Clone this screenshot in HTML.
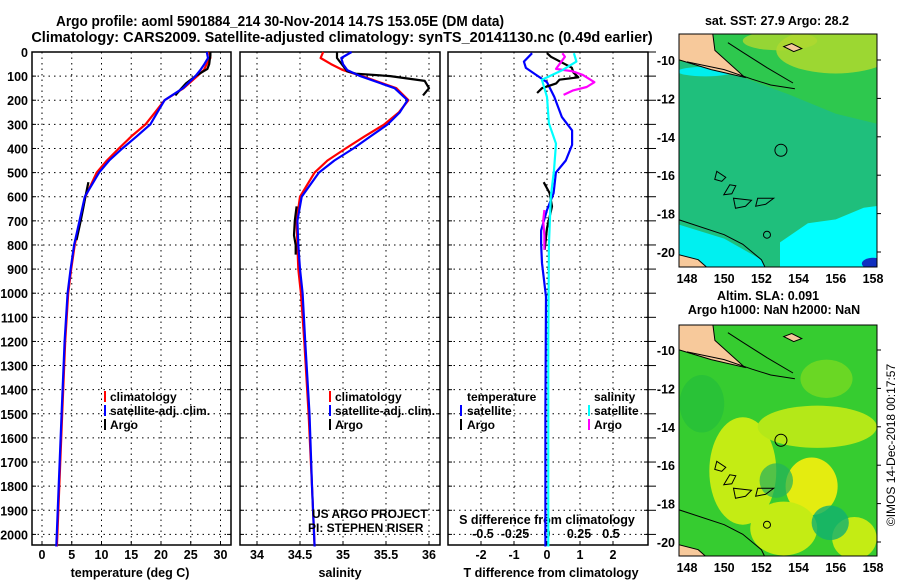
<!DOCTYPE html>
<html><head><meta charset="utf-8"><style>
html,body{margin:0;padding:0;background:#fff;}
svg{display:block;font-family:"Liberation Sans",sans-serif;font-weight:bold;}
</style></head><body>
<svg id="fig" width="900" height="580" viewBox="0 0 900 580" xmlns="http://www.w3.org/2000/svg">
<text x="280" y="26" font-size="14.5" text-anchor="middle" textLength="448" lengthAdjust="spacingAndGlyphs">Argo profile: aoml 5901884_214 30-Nov-2014 14.7S 153.05E (DM data)</text>
<text x="342" y="42" font-size="14.5" text-anchor="middle">Climatology: CARS2009. Satellite-adjusted climatology: synTS_20141130.nc (0.49d earlier)</text>
<g id="maps"></g>
<g id="panels"></g>
</svg>
<script>
// ---- data ----
const depthTicks=[0,100,200,300,400,500,600,700,800,900,1000,1100,1200,1300,1400,1500,1600,1700,1800,1900,2000];
const tempTicks=[0,5,10,15,20,25,30];
const salTicks=[34,34.5,35,35.5,36];
const tdTicks=[-2,-1,0,1,2];
const sdTicks=[-0.5,-0.25,0,0.25,0.5];
const sdTickLabels=["-0.5","-0.25","0","0.25","0.5"];
const climDepth=[0,25,50,75,100,150,200,250,300,350,400,450,500,600,700,800,900,1000,1200,1500,1800,2050];
const tempClim=[28.1,28.3,27.7,27.2,26.1,23.8,20.6,19.0,17.4,15.0,12.9,10.9,9.2,7.3,6.4,5.5,4.9,4.4,3.9,3.4,2.9,2.5];
const tempSat=[27.7,27.9,27.3,26.6,25.8,23.7,20.6,19.4,18.2,15.9,13.5,11.3,9.6,7.2,6.3,5.4,4.8,4.3,3.8,3.3,2.8,2.4];
const salClim=[34.77,34.74,34.86,35.0,35.22,35.62,35.76,35.65,35.48,35.25,35.03,34.82,34.67,34.5,34.46,34.47,34.48,34.51,34.55,34.6,34.64,34.67];
const salSat=[35.1,34.98,35.0,35.05,35.2,35.6,35.75,35.66,35.52,35.32,35.12,34.9,34.72,34.52,34.47,34.48,34.5,34.53,34.56,34.61,34.64,34.67];
const argoTDepth=[0,15,30,50,70,100,130,160,180];
const argoTemp=[28.3,28.3,28.2,28.1,27.8,25.8,24.2,23.1,22.4];
const argoTDeepDepth=[540,600,650,700,780];
const argoTDeep=[7.8,7.3,6.9,6.5,5.8];
const argoSDepth=[0,10,25,80,90,100,120,150,180];
const argoSal=[34.93,34.93,34.93,35.05,35.15,35.55,35.95,36.0,35.93];
const argoSDeepDepth=[640,700,760,800,840];
const argoSDeep=[34.46,34.44,34.43,34.45,34.45];
const diffDepth=[5,40,66,95,125,186,270,325,385,450,500,585,655,740,795,875,1015,1500,2050];
const tDiffSat=[-0.45,-0.7,-0.64,-0.33,0,0.22,0.45,0.76,0.76,0.57,0.27,0.2,0,-0.18,-0.18,-0.15,-0.03,-0.05,-0.05];
const cDepth=[5,40,75,115,186,295,380,490,600,800,1200,2050];
const sDiffSat=[0.21,0.23,0.12,-0.04,0,0.015,0.07,0.055,0.03,0.015,0.01,0.01];
const aTDepth=[5,20,65,85,105,115,130,150,170];
const tDiffArgo=[0.0,0.12,0.75,0.8,0.95,0.38,0.28,-0.15,-0.3];
const aTDeepDepth=[540,585,640,730,820];
const tDiffArgoDeep=[-0.1,0.08,0.15,0.0,-0.07];
const aSDepth=[5,20,70,80,95,125,145,160,178];
const sDiffArgo=[0.12,0.14,0.07,0.2,0.28,0.37,0.31,0.2,0.13];
const aSDeepDepth=[655,700,760,820];
const sDiffArgoDeep=[-0.02,-0.03,-0.02,-0.02];

const NS="http://www.w3.org/2000/svg";
function mk(tag,attrs,parent,txt){const e=document.createElementNS(NS,tag);for(const k in attrs)e.setAttribute(k,attrs[k]);if(txt!==undefined)e.textContent=txt;parent.appendChild(e);return e;}
const top0=52, pxPerM=0.2412, bot=545;
const yD=d=>top0+d*pxPerM;
const P=document.getElementById('panels');

function panel(name){
  const g=mk('g',{},P);
  
  
  return g;
}
function grid(g,x0,x1,xs){
  depthTicks.forEach(d=>{const y=yD(d);mk('line',{x1:x0,x2:x1,y1:y,y2:y,stroke:'#000','stroke-dasharray':'1.5,4','stroke-width':1},g);
    mk('line',{x1:x0,x2:x0+4,y1:y,y2:y,stroke:'#000'},g);mk('line',{x1:x1-4,x2:x1,y1:y,y2:y,stroke:'#000'},g);});
  xs.forEach(x=>{mk('line',{x1:x,x2:x,y1:top0,y2:bot,stroke:'#000','stroke-dasharray':'1.5,4'},g);
    mk('line',{x1:x,x2:x,y1:bot,y2:bot-4,stroke:'#000'},g);});
  mk('rect',{x:x0,y:top0,width:x1-x0,height:bot-top0,fill:'none',stroke:'#000','stroke-width':1.5},g);
}
function line(g,xs,ds,fx,col,name,w){
  const pts=xs.map((v,i)=>fx(v).toFixed(1)+','+yD(ds[i]).toFixed(1)).join(' ');
  const e=mk('polyline',{points:pts,fill:'none',stroke:col,'stroke-width':w||2.2,'stroke-linejoin':'round'},g);
  
  
}
function txt(g,x,y,s,size,anchor,name){const e=mk('text',{x:x,y:y,'font-size':size,'text-anchor':anchor||'start'},g,s);
  
  return e;}

// Panel 1: temperature
const xT=v=>42+v*5.95;
let g=panel('temperature-panel');
grid(g,32,231,tempTicks.map(xT));
depthTicks.forEach(d=>txt(g,28,yD(d)+5,String(d),12.5,'end','depth-tick-label'));
tempTicks.forEach(t=>txt(g,xT(t),559,String(t),12.5,'middle','temperature-tick-label'));
txt(g,130,577,'temperature (deg C)',12.5,'middle','temperature-axis-title');
line(g,tempClim,climDepth,xT,'#ff0000','temperature-climatology-line');
line(g,argoTemp,argoTDepth,xT,'#000','temperature-argo-line');
line(g,argoTDeep,argoTDeepDepth,xT,'#000','temperature-argo-deep-line');
line(g,tempSat,climDepth,xT,'#0000ff','temperature-satellite-line');
[['climatology','#f00'],['satellite-adj. clim.','#00f'],['Argo','#000']].forEach((l,i)=>{
  mk('rect',{x:104,y:391+i*14,width:2,height:11,fill:l[1]},g);txt(g,110,401+i*14,l[0],12,'start','legend-entry');});

// Panel 2: salinity
const xS=v=>257+(v-34)*86;
g=panel('salinity-panel');
grid(g,240,440,salTicks.map(xS));
salTicks.forEach(t=>txt(g,xS(t),559,String(t),12.5,'middle','salinity-tick-label'));
txt(g,340,577,'salinity',12.5,'middle','salinity-axis-title');
line(g,salClim,climDepth,xS,'#ff0000','salinity-climatology-line');
line(g,argoSal,argoSDepth,xS,'#000','salinity-argo-line');
line(g,argoSDeep,argoSDeepDepth,xS,'#000','salinity-argo-deep-line');
line(g,salSat,climDepth,xS,'#0000ff','salinity-satellite-line');
[['climatology','#f00'],['satellite-adj. clim.','#00f'],['Argo','#000']].forEach((l,i)=>{
  mk('rect',{x:329,y:391+i*14,width:2,height:11,fill:l[1]},g);txt(g,335,401+i*14,l[0],12,'start','legend-entry');});
txt(g,312,518,'US ARGO PROJECT',12,'start','project-credit');
txt(g,308,532,'PI: STEPHEN RISER',12,'start','pi-credit');

// Panel 3: differences
const xTD=v=>547+v*33;
const xSD=v=>547+v*128;
g=panel('difference-panel');
grid(g,448,648,tdTicks.map(xTD));
depthTicks.forEach(d=>mk('line',{x1:648,x2:656,y1:yD(d),y2:yD(d),stroke:'#000'},g));
tdTicks.forEach(t=>txt(g,xTD(t),559,String(t),12.5,'middle','t-diff-tick-label'));
sdTicks.forEach((t,i)=>txt(g,xSD(t),538,sdTickLabels[i],12.5,'middle','s-diff-tick-label'));
txt(g,547,524,'S difference from climatology',12.5,'middle','s-diff-axis-title');
txt(g,551,577,'T difference from climatology',12.5,'middle','t-diff-axis-title');
line(g,tDiffSat,diffDepth,xTD,'#0000ff','t-diff-satellite-line');
line(g,tDiffArgo,aTDepth,xTD,'#000','t-diff-argo-line');
line(g,tDiffArgoDeep,aTDeepDepth,xTD,'#000','t-diff-argo-deep-line');
line(g,sDiffArgo,aSDepth,xSD,'#ff00ff','s-diff-argo-line');
line(g,sDiffArgoDeep,aSDeepDepth,xSD,'#ff00ff','s-diff-argo-deep-line');
line(g,sDiffSat,cDepth,xSD,'#00ffff','s-diff-satellite-line');
txt(g,467,401,'temperature',12,'start','legend-title-temperature');
mk('rect',{x:460,y:405,width:2,height:11,fill:'#00f'},g);txt(g,467,415,'satellite',12,'start','legend-entry');
mk('rect',{x:460,y:419,width:2,height:11,fill:'#000'},g);txt(g,467,429,'Argo',12,'start','legend-entry');
txt(g,594,401,'salinity',12,'start','legend-title-salinity');
mk('rect',{x:588,y:405,width:2,height:11,fill:'#0ff'},g);txt(g,594,415,'satellite',12,'start','legend-entry');
mk('rect',{x:588,y:419,width:2,height:11,fill:'#f0f'},g);txt(g,594,429,'Argo',12,'start','legend-entry');

// Maps
const M=document.getElementById('maps');
function map(y0,y1,yTen,name,bg,polys,blobs){
  const g=mk('g',{},M);
  
  
  const x0=679,x1=877;
  const lx=l=>687+(l-148)*18.6;
  const ly=l=>yTen+(-l-10)*19.2;
  const P=a=>a.map(p=>lx(p[0]).toFixed(1)+','+ly(p[1]).toFixed(1)).join(' ');
  const cp=mk('clipPath',{id:'c'+y0},g);mk('rect',{x:x0,y:y0,width:x1-x0,height:y1-y0},cp);
  const cg=mk('g',{'clip-path':'url(#c'+y0+')'},g);
  mk('rect',{x:x0,y:y0,width:x1-x0,height:y1-y0,fill:bg},cg);
  polys.forEach(p=>mk('polygon',{points:P(p[0]),fill:p[1]},cg));
  blobs.forEach(b=>mk('ellipse',{cx:lx(b[0]),cy:ly(b[1]),rx:b[2]*18.6,ry:b[3]*19.2,fill:b[4],opacity:b[5]||1},cg));
  mk('polygon',{points:P([[147,-8],[149.3,-8],[149.5,-9.5],[151.1,-10.9],[149.3,-10.5],[147.6,-10.0],[147,-10]]),fill:'#f7c99b',stroke:'#000'},cg);
  mk('polyline',{points:P([[148,-10.1],[150,-10.5],[151.5,-11],[152.5,-11.3],[153.8,-11.5]]),fill:'none',stroke:'#000'},cg);
  mk('polyline',{points:P([[150.2,-9.1],[151,-9.6],[152.3,-10.4],[153.7,-11.2]]),fill:'none',stroke:'#000'},cg);
  mk('path',{d:`M${lx(153.2)},${ly(-9.3)} l8,-3 l10,5 l-8,3 z`,fill:'#f7c99b',stroke:'#000'},cg);
  mk('polygon',{points:P([[147,-20.0],[148.6,-20.4],[149.3,-21],[147,-21]]),fill:'#f7c99b',stroke:'#000'},cg);
  mk('polyline',{points:P([[147.5,-18.3],[150,-19.1],[151,-19.6],[152,-20.4],[152.3,-21]]),fill:'none',stroke:'#000'},cg);
  mk('path',{d:`M${lx(149.6)},${ly(-15.8)} l-2,8 l7,2 l4,-4 z M${lx(150.3)},${ly(-16.5)} l-6,10 l8,-1 l4,-8 z M${lx(150.5)},${ly(-17.2)} l2,10 l10,-2 l6,-6 z M${lx(151.8)},${ly(-17.2)} l-2,8 l10,-2 l8,-6 z`,fill:'none',stroke:'#000'},cg);
  mk('circle',{cx:lx(153.05),cy:ly(-14.7),r:6,fill:'none',stroke:'#000'},g);
  mk('circle',{cx:lx(152.3),cy:ly(-19.1),r:3.5,fill:'none',stroke:'#000'},g);
  mk('rect',{x:x0,y:y0,width:x1-x0,height:y1-y0,fill:'none',stroke:'#000'},g);
  [-10,-12,-14,-16,-18,-20].forEach(l=>{mk('line',{x1:x1,x2:x1+4,y1:ly(l),y2:ly(l),stroke:'#000'},g);
    txt(g,675,ly(l)+5,String(l),12.5,'end','latitude-tick-label');});
  [148,150,152,154,156,158].forEach(l=>txt(g,lx(l),y1+16,String(l),12.5,'middle','longitude-tick-label'));
}
map(34,267,60,'sst-map','#1fbf7c',
 [[[[147,-8],[159,-8],[159,-13.5],[156,-12.8],[153.5,-11.8],[151,-10.9],[148,-10.1],[147,-10.1]],'#2ec84e'],
  [[[153,-21],[153,-19.5],[154.5,-18.5],[156,-18.3],[157.5,-17.7],[159,-17.5],[159,-21]],'#00ffff'],
  [[[147,-18.4],[150,-19.3],[152,-20.4],[152.3,-21],[147,-21]],'#00f0f0']],
 [[156,-9.5,3.2,1.2,'#a8d830',0.9],[153,-9,2,0.5,'#b0d830',0.8],[149,-10.6,1.5,0.25,'#00eeee'],[158,-20.6,0.6,0.3,'#1030c0']]);
map(325,556,350,'sla-map','#36cc30',[],
 [[151,-16.3,1.8,2.8,'#c4ec14'],[154.7,-17.1,1.4,1.5,'#e4ec10'],[155,-14,3.2,1.1,'#b4e818'],[153.2,-19.3,1.8,1.4,'#c4ec14'],[157,-19.8,1.2,1.1,'#c4ec14'],[155.7,-19,1,0.9,'#12b070',0.8],[152.8,-16.8,0.9,0.9,'#24b05c',0.7],[155.5,-11.5,1.4,1.0,'#80dc20',0.7],[148.8,-12.8,1.2,1.5,'#22bb3c',0.6]]);
txt(M,777,25,'sat. SST: 27.9 Argo: 28.2',12.5,'middle','sst-map-title');
txt(M,768,300,'Altim. SLA: 0.091',12.5,'middle','sla-map-title');
txt(M,774,314,'Argo h1000: NaN h2000: NaN',12.5,'middle','argo-height-title');
const c=txt(M,0,0,'©IMOS 14-Dec-2018 00:17:57',12,'middle','copyright-timestamp');
c.setAttribute('font-weight','normal');
c.setAttribute('transform','translate(895,445) rotate(-90)');
</script>
</body></html>
